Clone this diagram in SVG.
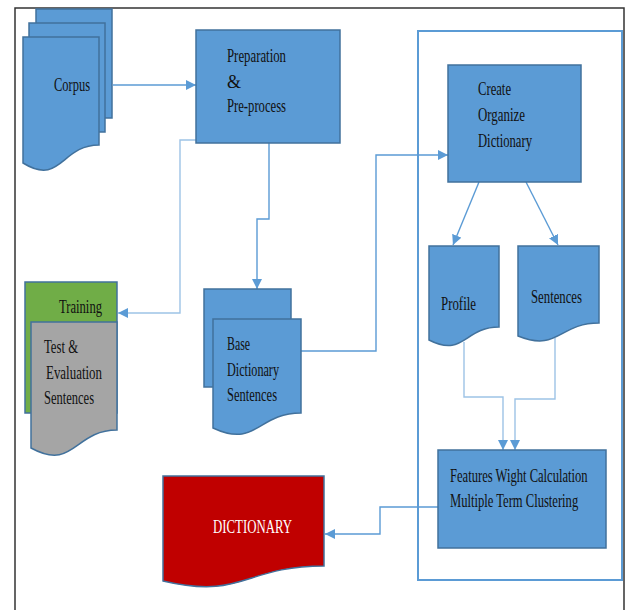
<svg xmlns="http://www.w3.org/2000/svg" width="627" height="610" viewBox="0 0 627 610">
<style>
.bx{fill:#5B9BD5;stroke:#41719C;stroke-width:1.5}
.cn{fill:none;stroke:#5B9BD5;stroke-width:1.4}
.lt{stroke:#9DC3E6}
.t{font-family:"Liberation Serif","Times New Roman",serif;font-size:18px;fill:#111}
.w{fill:#fff}
</style>
<defs>
<marker id="ah" viewBox="0 0 10 10" refX="10" refY="5" markerWidth="10" markerHeight="10" markerUnits="userSpaceOnUse" orient="auto">
<path d="M0,0 L10,5 L0,10 z" fill="#5B9BD5"/>
</marker>
</defs>
<rect width="627" height="610" fill="#fff"/>
<path d="M15,610 V8 H624 V610" fill="none" stroke="#333" stroke-width="1.5"/>
<rect x="418" y="31" width="204" height="549" fill="none" stroke="#5B9BD5" stroke-width="2"/>

<g id="connectors">
<path class="cn" d="M113,85 H196" marker-end="url(#ah)"/>
<path class="cn lt" d="M196,140 H180 V313 H118" marker-end="url(#ah)"/>
<path class="cn" d="M269,143 V219 H257 V289" marker-end="url(#ah)"/>
<path class="cn" d="M301,351 H376 V155 H448" marker-end="url(#ah)"/>
<path class="cn" d="M479,182 L453,245" marker-end="url(#ah)"/>
<path class="cn" d="M526,182 L558,245" marker-end="url(#ah)"/>
<path class="cn lt" d="M464,342 V397 H503 V450" marker-end="url(#ah)"/>
<path class="cn lt" d="M555,338 V399 H515 V450" marker-end="url(#ah)"/>
<path class="cn" d="M438,507 H380 V534 H325" marker-end="url(#ah)"/>
</g>

<g id="corpus">
<rect class="bx" x="36" y="9" width="76" height="109"/>
<rect class="bx" x="29" y="23" width="76" height="109"/>
<path class="bx" d="M23,37 H99 V145 C61,145 61,186.5 23,163 Z"/>
<text class="t" x="54" y="91" textLength="36" lengthAdjust="spacingAndGlyphs">Corpus</text>
</g>

<g id="preparation">
<rect class="bx" x="196" y="30" width="144" height="113"/>
<text class="t" x="227" y="62" textLength="59" lengthAdjust="spacingAndGlyphs">Preparation</text>
<text class="t" x="227" y="88">&amp;</text>
<text class="t" x="227" y="112" textLength="59" lengthAdjust="spacingAndGlyphs">Pre-process</text>
</g>

<g id="training">
<rect class="bx" x="25" y="282" width="92" height="131" style="fill:#70AD47"/>
<path class="bx" d="M31,322 H117 V430 C74,430 74,471.5 31,448 Z" style="fill:#A5A5A5"/>
<text class="t" x="59" y="313" textLength="43" lengthAdjust="spacingAndGlyphs">Training</text>
<text class="t" x="44" y="353" textLength="34" lengthAdjust="spacingAndGlyphs">Test &amp;</text>
<text class="t" x="46" y="379" textLength="56" lengthAdjust="spacingAndGlyphs">Evaluation</text>
<text class="t" x="44" y="404" textLength="50" lengthAdjust="spacingAndGlyphs">Sentences</text>
</g>

<g id="base-dictionary">
<rect class="bx" x="204" y="289" width="87" height="98"/>
<path class="bx" d="M213,319 H301 V413 C257,413 257,448.5 213,428 Z"/>
<text class="t" x="227" y="350" textLength="23" lengthAdjust="spacingAndGlyphs">Base</text>
<text class="t" x="227" y="376" textLength="52" lengthAdjust="spacingAndGlyphs">Dictionary</text>
<text class="t" x="227" y="401" textLength="50" lengthAdjust="spacingAndGlyphs">Sentences</text>
</g>

<g id="create">
<rect class="bx" x="448" y="65" width="133" height="117"/>
<text class="t" x="478" y="95" textLength="33" lengthAdjust="spacingAndGlyphs">Create</text>
<text class="t" x="478" y="121" textLength="47" lengthAdjust="spacingAndGlyphs">Organize</text>
<text class="t" x="478" y="147" textLength="54" lengthAdjust="spacingAndGlyphs">Dictionary</text>
</g>

<g id="profile">
<path class="bx" d="M429,246 H499 V327 C464,327 464,357.9 429,340 Z"/>
<text class="t" x="441" y="310" textLength="35" lengthAdjust="spacingAndGlyphs">Profile</text>
</g>

<g id="sentences">
<path class="bx" d="M518,246 H599 V323 C558.5,323 558.5,352.3 518,336 Z"/>
<text class="t" x="531" y="303" textLength="51" lengthAdjust="spacingAndGlyphs">Sentences</text>
</g>

<g id="features">
<rect class="bx" x="438" y="450" width="168" height="98"/>
<text class="t" transform="translate(450,482) scale(0.7,1)" x="0" y="0">Features Wight Calculation</text>
<text class="t" transform="translate(450,507) scale(0.7,1)" x="0" y="0">Multiple Term Clustering</text>
</g>

<g id="dictionary">
<path class="bx" d="M163,476 H324 V566 C243.5,566 243.5,600 163,581 Z" style="fill:#C00000"/>
<text class="t w" x="213" y="533" textLength="79" lengthAdjust="spacingAndGlyphs">DICTIONARY</text>
</g>
</svg>
